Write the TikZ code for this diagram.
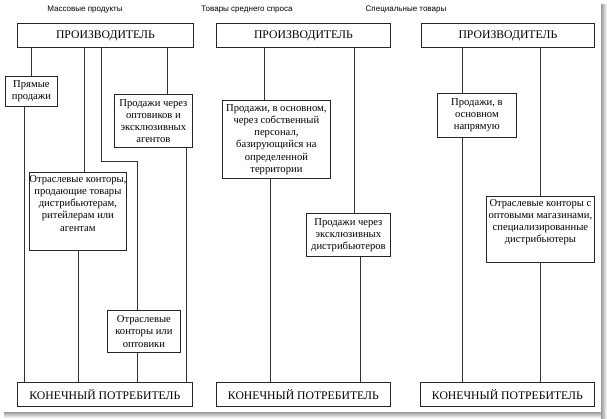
\documentclass[tikz,border=0pt]{standalone}
\usepackage{fontspec}
\setmainfont{Liberation Serif}
\setsansfont{Liberation Sans}
\usetikzlibrary{positioning}

\tikzset{
  box/.style={draw=black!85, line width=0.8pt, fill=white, rectangle, inner sep=2pt, align=center,
    anchor=north west, font=\fontsize{10.6}{12.2}\selectfont},
  endbox/.style={box, minimum height=24pt, font=\fontsize{11.7}{12.5}\selectfont},
  boxtext/.style={inner sep=0pt, align=center, font=\fontsize{10.6}{12.2}\selectfont},
  link/.style={draw=black!80, line width=0.8pt},
  heading/.style={font=\sffamily\fontsize{8}{9}\selectfont, inner sep=0.75pt}
}

\begin{document}
\begin{tikzpicture}[x=1pt,y=1pt,yscale=-1,xscale=1]
\useasboundingbox (0,0) rectangle (607,418);
%Shadow of the page
\shade[left color=black!40, right color=white] (601,4) rectangle (607,418);
\shade[top color=black!40, bottom color=white] (4,412) rectangle (601,418);

% Text Node
\node[heading] (massT) at (85,10) {Массовые продукты};
% Text Node
\node[heading] (midT) at (247,10) {Товары среднего спроса};
% Text Node
\node[heading] (specT) at (406,10) {Специальные товары};

%Shape: Rectangle -- mass products
\node[endbox, minimum width=176pt] (prodA) at (17,23) {ПРОИЗВОДИТЕЛЬ};
\node[endbox, minimum width=175pt] (consA) at (17,382) {КОНЕЧНЫЙ ПОТРЕБИТЕЛЬ};
\node[box, minimum width=52pt, minimum height=30pt] (directA) at (5,76) {Прямые\\продажи};
\node[box, minimum width=78pt, minimum height=53pt] (agentsA) at (114,94) {Продажи через\\оптовиков и\\эксклюзивных\\агентов};
\node[box, minimum width=97pt, minimum height=78pt] (officesA) at (29,172) {};
\node[boxtext, below=3pt of officesA.north] (officesAtxt) {Отраслевые конторы,\\продающие товары\\дистрибьютерам,\\ритейлерам или\\агентам};
\node[box, minimum width=73pt, minimum height=42pt] (wholesaleA) at (107,310) {Отраслевые\\конторы или\\оптовики};

%Straight Lines -- mass products
\draw[link] (prodA.south -| directA.north) -- (directA.north);
\draw[link] ([xshift=-7pt]directA.south) -- ([xshift=-7pt]directA.south |- consA.north);
\draw[link] ([xshift=6.5pt]officesA.north |- prodA.south) -- ([xshift=6.5pt]officesA.north);
\draw[link] (officesA.south) -- (officesA.south |- consA.north);
\draw[link] ([xshift=-42.5pt]wholesaleA.north |- prodA.south) -- ++(0,114) -| ([xshift=-6.5pt]wholesaleA.north);
\draw[link] ([xshift=-6.5pt]wholesaleA.south) -- ([xshift=-6.5pt]wholesaleA.south |- consA.north);
\draw[link] ([xshift=14pt]agentsA.north |- prodA.south) -- ([xshift=14pt]agentsA.north);
\draw[link] ([xshift=33pt]agentsA.south) -- ([xshift=33pt]agentsA.south |- consA.north);

%Shape: Rectangle -- middle demand goods
\node[endbox, minimum width=174pt] (prodB) at (216,23) {ПРОИЗВОДИТЕЛЬ};
\node[endbox, minimum width=174pt] (consB) at (216,382) {КОНЕЧНЫЙ ПОТРЕБИТЕЛЬ};
\node[box, minimum width=108pt, minimum height=78pt] (staffB) at (222,100) {Продажи, в основном,\\через собственный\\персонал,\\базирующийся на\\определенной\\территории};
\node[box, minimum width=84pt, minimum height=43pt] (exclB) at (306,213) {Продажи через\\эксклюзивных\\дистрибьютеров};

%Straight Lines -- middle demand goods
\draw[link] ([xshift=-12pt]staffB.north |- prodB.south) -- ([xshift=-12pt]staffB.north);
\draw[link] ([xshift=-6pt]staffB.south) -- ([xshift=-6pt]staffB.south |- consB.north);
\draw[link] ([xshift=6pt]exclB.north |- prodB.south) -- ([xshift=6pt]exclB.north);
\draw[link] ([xshift=12pt]exclB.south) -- ([xshift=12pt]exclB.south |- consB.north);

%Shape: Rectangle -- special goods
\node[endbox, minimum width=173pt] (prodC) at (421,23) {ПРОИЗВОДИТЕЛЬ};
\node[endbox, minimum width=174pt] (consC) at (420,382) {КОНЕЧНЫЙ ПОТРЕБИТЕЛЬ};
\node[box, minimum width=79pt, minimum height=44pt] (directC) at (437,93) {Продажи, в\\основном\\напрямую};
\node[box, minimum width=108pt, minimum height=66pt] (officesC) at (486,196) {};
\node[boxtext, below=3pt of officesC.north] (officesCtxt) {Отраслевые конторы с\\оптовыми магазинами,\\специализированные\\дистрибьютеры};

%Straight Lines -- special goods
\draw[link] ([xshift=-14.5pt]directC.north |- prodC.south) -- ([xshift=-14.5pt]directC.north);
\draw[link] ([xshift=-14.5pt]directC.south) -- ([xshift=-14.5pt]directC.south |- consC.north);
\draw[link] (officesC.north |- prodC.south) -- (officesC.north);
\draw[link] (officesC.south) -- (officesC.south |- consC.north);

\end{tikzpicture}
\end{document}
